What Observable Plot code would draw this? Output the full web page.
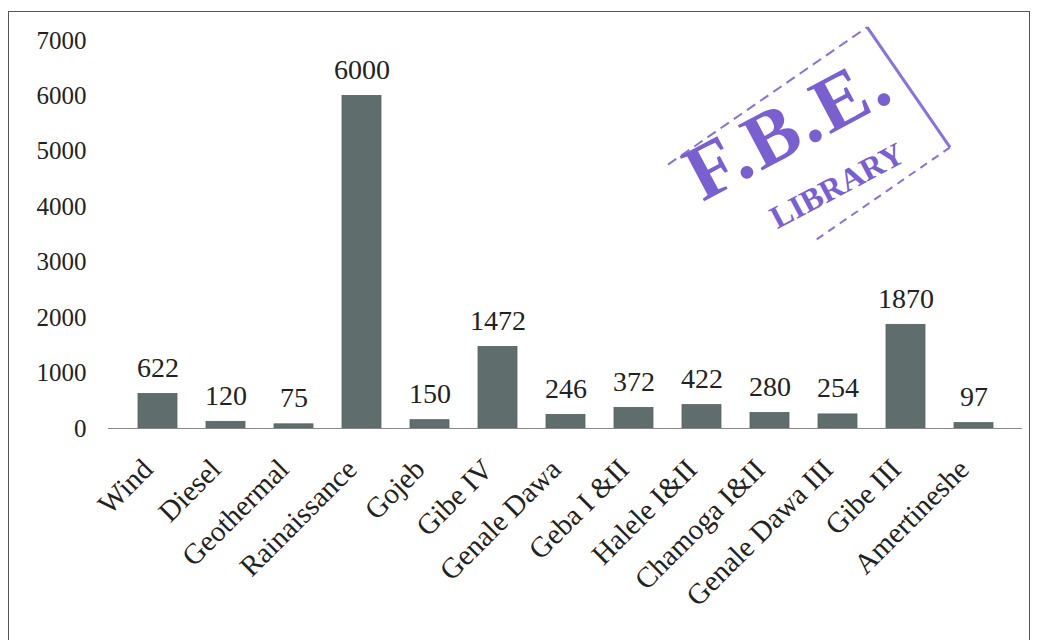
<!DOCTYPE html>
<html><head><meta charset="utf-8">
<script src="https://cdn.jsdelivr.net/npm/d3@7"></script>
<script src="https://cdn.jsdelivr.net/npm/@observablehq/plot@0.6"></script>
<style>
body{margin:0;background:#fff;}
#wrap{position:relative;width:1037px;height:640px;overflow:hidden;}
#border{position:absolute;left:8px;top:11px;width:1022px;height:640px;border:1.5px solid #555;border-bottom:none;box-sizing:border-box;}
#chart{position:absolute;left:0;top:0;}
#stamp{position:absolute;left:0;top:0;pointer-events:none;}
</style></head>
<body><div id="wrap"><div id="border"></div><div id="chart"></div>
<svg id="stamp" width="1037" height="640">
  <g transform="translate(809,156) rotate(-34.6)" fill="none" stroke="#8a72d6">
    <line x1="-121" y1="-73" x2="121" y2="-73" stroke-width="2" stroke-dasharray="10 6"/>
    <line x1="121" y1="-73" x2="121" y2="73" stroke-width="3"/>
    <line x1="121" y1="73" x2="-45" y2="73" stroke-width="2" stroke-dasharray="8 6"/>
  </g>
  <text transform="translate(800,150) rotate(-28)" text-anchor="middle" font-family="'Liberation Serif','Times New Roman',Times,serif" font-weight="bold" font-size="78" fill="#7a5fcf" letter-spacing="3">F.B.E.</text>
  <text transform="translate(842,195) rotate(-28)" text-anchor="middle" font-family="'Liberation Serif','Times New Roman',Times,serif" font-weight="bold" font-size="32" fill="#7a5fcf">LIBRARY</text>
</svg></div>
<script>
const categories = ["Wind","Diesel","Geothermal","Rainaissance","Gojeb","Gibe IV","Genale Dawa","Geba I &II","Halele I&II","Chamoga I&II","Genale Dawa III","Gibe III","Amertineshe"];
const values = [622,120,75,6000,150,1472,246,372,422,280,254,1870,97];
const yTicks = [0,1000,2000,3000,4000,5000,6000,7000];
const data = categories.map((c,i)=>({cat:c,value:values[i]}));
const font = "'Liberation Serif', 'Times New Roman', Times, serif";
const chart = Plot.plot({
  width:1037, height:640,
  marginLeft:108, marginRight:15, marginTop:40, marginBottom:212,
  style:{fontFamily:font, background:"transparent", color:"#222"},
  x:{domain:categories, padding:0.43, label:null},
  y:{domain:[0,7000], label:null},
  marks:[
    Plot.axisY({ticks:yTicks, tickSize:0, tickPadding:22, fontSize:25, line:true, stroke:"#888", label:null, tickFormat:d=>String(d), fontFamily:font}),
    Plot.axisX({tickSize:0, tickPadding:36, tickRotate:-45, fontSize:29, label:null, fontFamily:font, dx:-10}),
    Plot.barY(data,{x:"cat", y:"value", fill:"#5f6e6d", stroke:"#56625f", strokeWidth:0.8}),
    Plot.ruleY([0],{stroke:"#888", strokeWidth:1.2}),
    Plot.text(data,{x:"cat", y:"value", text:d=>String(d.value), dy:-26, fontSize:28, fill:"#222", fontFamily:font})
  ]
});
document.getElementById("chart").appendChild(chart);
</script></body></html>
